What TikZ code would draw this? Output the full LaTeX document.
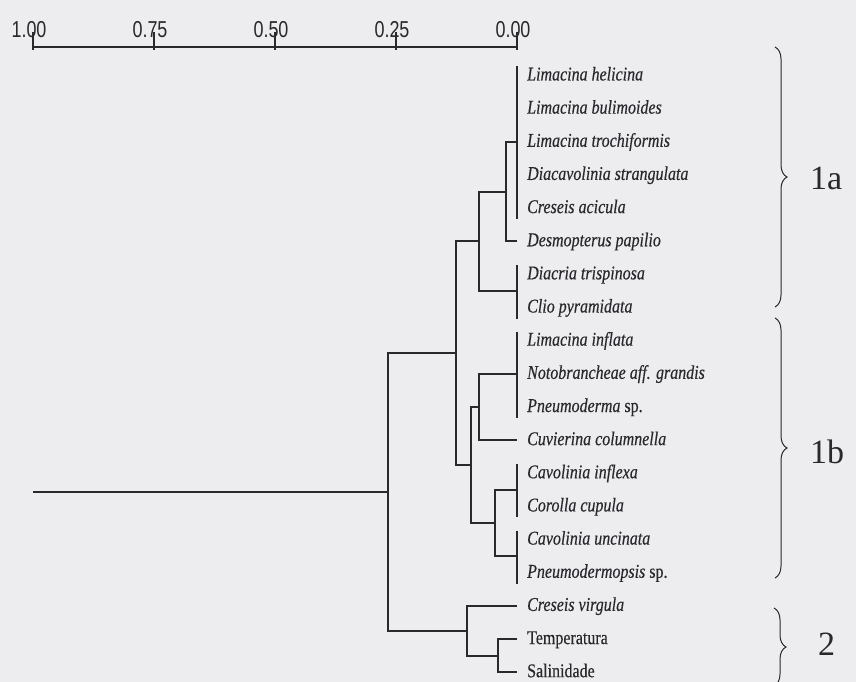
\documentclass[tikz,border=0pt]{standalone}
\usepackage{fontspec}
\setmainfont{Liberation Serif}
\newfontfamily\taxfont[FakeStretch=0.82,FakeBold=0.4]{Liberation Serif}
\newfontfamily\axfont[FakeStretch=0.78]{Liberation Sans}
\usetikzlibrary{decorations.pathreplacing}
\definecolor{bgc}{RGB}{237,237,240}
\definecolor{inkc}{RGB}{40,40,45}
\def\RY#1{75.5+33.15*#1}
\tikzset{
  tree/.style={draw=inkc, line width=2pt},
  tickline/.style={draw=inkc, line width=1.6pt},
  axisline/.style={draw=inkc, line width=2.2pt},
  taxon/.style={anchor=base west, inner sep=0pt, text=inkc, font=\taxfont\fontsize{19.5}{22}\selectfont},
  axlabel/.style={anchor=base, inner sep=0pt, text=inkc, font=\axfont\fontsize{23}{26}\selectfont},
  grouplabel/.style={anchor=west, inner sep=0pt, text=inkc, font=\fontsize{34}{38}\selectfont},
  bracec/.style={draw=inkc, line width=1pt, decorate, decoration={brace, amplitude=12pt}}
}
\begin{document}
\begin{tikzpicture}[x=1pt, y=-1pt]
\useasboundingbox (0,0) rectangle (856,682);
\fill[bgc] (0,0) rectangle (856,682);

% axis
\coordinate (ax0) at (33,47);
\coordinate (ax1) at (518,47);
\draw[axisline] (ax0) -- (ax1);
\foreach \xx/\lab/\nm in {33/1.00/a, 154/0.75/b, 275/0.50/c, 396/0.25/d, 517/0.00/e}{
  \coordinate (tk\nm t) at (\xx,32);
  \coordinate (tk\nm b) at (\xx,50);
  \draw[tickline] (tk\nm t) -- (tk\nm b);
  \node[axlabel] (lab\nm) at ({\xx-4},38) {\lab};
}

% leaf labels
\foreach \i/\txt in {
  0/{\itshape Limacina helicina},
  1/{\itshape Limacina bulimoides},
  2/{\itshape Limacina trochiformis},
  3/{\itshape Diacavolinia strangulata},
  4/{\itshape Creseis acicula},
  5/{\itshape Desmopterus papilio},
  6/{\itshape Diacria trispinosa},
  7/{\itshape Clio pyramidata},
  8/{\itshape Limacina inflata},
  9/{\itshape Notobrancheae aff. grandis},
  10/{{\itshape Pneumoderma} sp.},
  11/{\itshape Cuvierina columnella},
  12/{\itshape Cavolinia inflexa},
  13/{\itshape Corolla cupula},
  14/{\itshape Cavolinia uncinata},
  15/{{\itshape Pneumodermopsis} sp.},
  16/{\itshape Creseis virgula},
  17/{Temperatura},
  18/{Salinidade}}{
  \node[taxon] (t\i) at (527,{\RY{\i}+5}) {\txt};
}

% leaf ends
\coordinate (e5) at (517,{\RY{5}});
\coordinate (e11) at (517,{\RY{11}});
\coordinate (e16) at (517,{\RY{16}});
\coordinate (e17) at (517,{\RY{17}});
\coordinate (e18) at (517,{\RY{18}});

% zero-distance groups
\coordinate (gAt) at (517,{\RY{0}-9});
\coordinate (gAb) at (517,{\RY{4}+11});
\coordinate (gA) at (517,{\RY{2}});
\coordinate (gBt) at (517,{\RY{6}-9});
\coordinate (gBb) at (517,{\RY{7}+11});
\coordinate (gB) at (517,{\RY{6.5}});
\coordinate (gIt) at (517,{\RY{8}-9});
\coordinate (gIb) at (517,{\RY{10}+11});
\coordinate (gI) at (517,{\RY{9}});
\coordinate (gCt) at (517,{\RY{12}-9});
\coordinate (gCb) at (517,{\RY{13}+11});
\coordinate (gC) at (517,{\RY{12.5}});
\coordinate (gUt) at (517,{\RY{14}-9});
\coordinate (gUb) at (517,{\RY{15}+11});
\coordinate (gU) at (517,{\RY{14.5}});
\draw[tree] (gAt) -- (gAb);
\draw[tree] (gBt) -- (gBb);
\draw[tree] (gIt) -- (gIb);
\draw[tree] (gCt) -- (gCb);
\draw[tree] (gUt) -- (gUb);

% internal nodes
\coordinate (nAD) at (506,{\RY{3.5}});
\coordinate (nADB) at (479,{\RY{5}});
\coordinate (nIC) at (479,{\RY{10}});
\coordinate (nCU) at (495,{\RY{13.5}});
\coordinate (n1b) at (471,{\RY{11.75}});
\coordinate (n1) at (456,{\RY{8.375}});
\coordinate (nTS) at (498,{\RY{17.5}});
\coordinate (n2) at (467,{\RY{16.75}});
\coordinate (root) at (388,{\RY{12.5625}});
\coordinate (rootend) at (33,{\RY{12.5625}});

\draw[tree] (gA) -| (nAD) |- (e5);
\draw[tree] (nAD) -| (nADB) |- (gB);
\draw[tree] (gI) -| (nIC) |- (e11);
\draw[tree] (gC) -| (nCU) |- (gU);
\draw[tree] (nIC) -| (n1b) |- (nCU);
\draw[tree] (nADB) -| (n1) |- (n1b);
\draw[tree] (e17) -| (nTS) |- (e18);
\draw[tree] (e16) -| (n2) |- (nTS);
\draw[tree] (n1) -| (root) |- (n2);
\draw[tree] (root) -- (rootend);

% braces
\coordinate (b1t) at (775,47);
\coordinate (b1b) at (775,307);
\coordinate (b2t) at (775,318);
\coordinate (b2b) at (775,578);
\coordinate (b3t) at (774,608);
\coordinate (b3b) at (774,686);
\draw[bracec] (b1t) -- (b1b);
\draw[bracec] (b2t) -- (b2b);
\draw[bracec] (b3t) -- (b3b);
\node[grouplabel] (g1a) at (810,178) {1a};
\node[grouplabel] (g1b) at (810,452) {1b};
\node[grouplabel] (g2) at (818,644) {2};
\end{tikzpicture}
\end{document}
